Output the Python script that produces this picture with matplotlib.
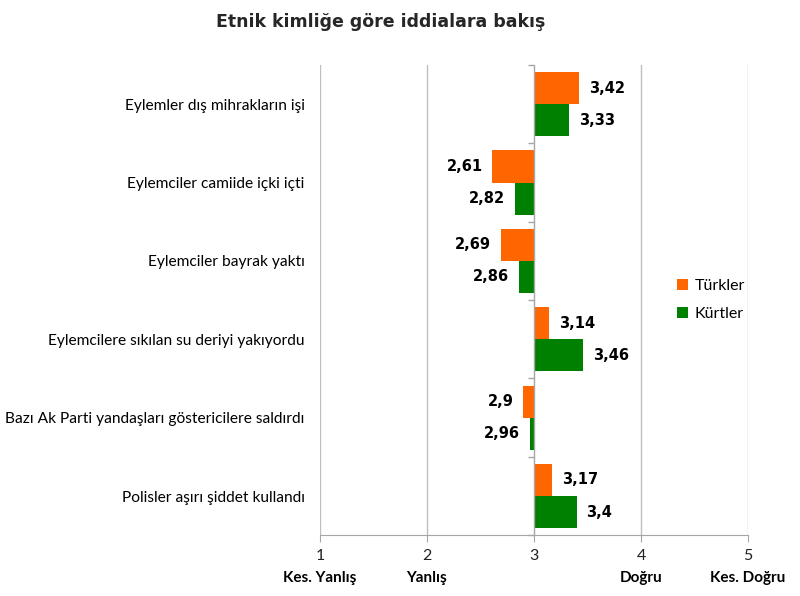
"""
Etnik kimlige gore iddialara bakis - horizontal bars around the midpoint 3.
"""
import matplotlib
matplotlib.use('Agg')
import matplotlib.pyplot as plt
from matplotlib.transforms import blended_transform_factory
import numpy as np

CATEGORIES = [
    'Eylemler dış mihrakların işi',
    'Eylemciler camiide içki içti',
    'Eylemciler bayrak yaktı',
    'Eylemcilere sıkılan su deriyi yakıyordu',
    'Bazı Ak Parti yandaşları göstericilere saldırdı',
    'Polisler aşırı şiddet kullandı',
]
TURKLER = [3.42, 2.61, 2.69, 3.14, 2.9, 3.17]
KURTLER = [3.33, 2.82, 2.86, 3.46, 2.96, 3.4]
SERIES_NAMES = ['Türkler', 'Kürtler']
X_TICKS = [1, 2, 3, 4, 5]
X_WORDS = ['Kes. Yanlış', 'Yanlış', '', 'Doğru', 'Kes. Doğru']

ORANGE = '#FF6600'
GREEN = '#008000'
GRID = '#BFBFBF'
BASE = 3

plt.rcParams['font.family'] = ['Lato', 'DejaVu Sans']


def fmt(v):
    return f"{v:g}".replace('.', ',')


def plot_chart(output_filename):
    fig = plt.figure(figsize=(8, 5.96), dpi=100)
    ax = fig.add_axes([0.4, 0.102, 0.535, 0.789])

    y = np.arange(len(CATEGORIES))
    h = 0.41
    for vals, color, off, name in [(TURKLER, ORANGE, -h / 2, SERIES_NAMES[0]),
                                   (KURTLER, GREEN, h / 2, SERIES_NAMES[1])]:
        widths = [v - BASE for v in vals]
        ax.barh(y + off, widths, height=h, left=BASE, color=color, label=name, zorder=3)
        for yi, v in zip(y + off, vals):
            if v >= BASE:
                ax.text(v + 0.09, yi, fmt(v), ha='left', va='center',
                        fontsize=10.5, fontweight='bold', family='DejaVu Sans')
            else:
                ax.text(v - 0.09, yi, fmt(v), ha='right', va='center',
                        fontsize=10.5, fontweight='bold', family='DejaVu Sans')

    ax.set_xlim(1, 5)
    ax.set_ylim(len(CATEGORIES) - 0.5, -0.5)

    # vertical grid lines
    for xv in X_TICKS:
        if xv != BASE:
            ax.axvline(xv, color=GRID, lw=1, zorder=1)
    ax.axvline(BASE, color='#A6A6A6', lw=1, zorder=4)
    bounds = np.arange(len(CATEGORIES) + 1) - 0.5
    ax.plot([BASE] * len(bounds), bounds, ls='none', marker=0, ms=4,
            color='#A6A6A6', mew=1, zorder=4, clip_on=False)

    for s in ['top', 'right', 'left']:
        ax.spines[s].set_visible(False)
    ax.spines['bottom'].set_color('#A6A6A6')

    ax.set_yticks(y)
    ax.set_yticklabels(CATEGORIES, fontsize=11.2)
    ax.tick_params(axis='y', length=0, pad=11)
    ax.set_xticks(X_TICKS)
    ax.set_xticklabels([str(t) for t in X_TICKS], fontsize=11.5, color='#222222')
    ax.tick_params(axis='x', length=5, color='#A6A6A6', pad=5)

    trans = blended_transform_factory(ax.transData, fig.transFigure)
    for xv, word in zip(X_TICKS, X_WORDS):
        if word:
            ax.text(xv, 1 - 578 / 596, word, transform=trans, ha='center', va='center',
                    fontsize=11, fontweight='bold')

    fig.text(0.476, 1 - 22 / 596, 'Etnik kimliğe göre iddialara bakış', ha='center',
             va='center', fontsize=12.5, fontweight='bold', family='DejaVu Sans',
             color='#262626')

    ax.legend(loc='center left', bbox_to_anchor=(0.8, 0.5), frameon=False,
              fontsize=11.5, handlelength=0.7, handleheight=0.7, handletextpad=0.4,
              labelspacing=0.9)

    fig.savefig(output_filename, dpi=100)


if __name__ == "__main__":
    plot_chart('out.png')
